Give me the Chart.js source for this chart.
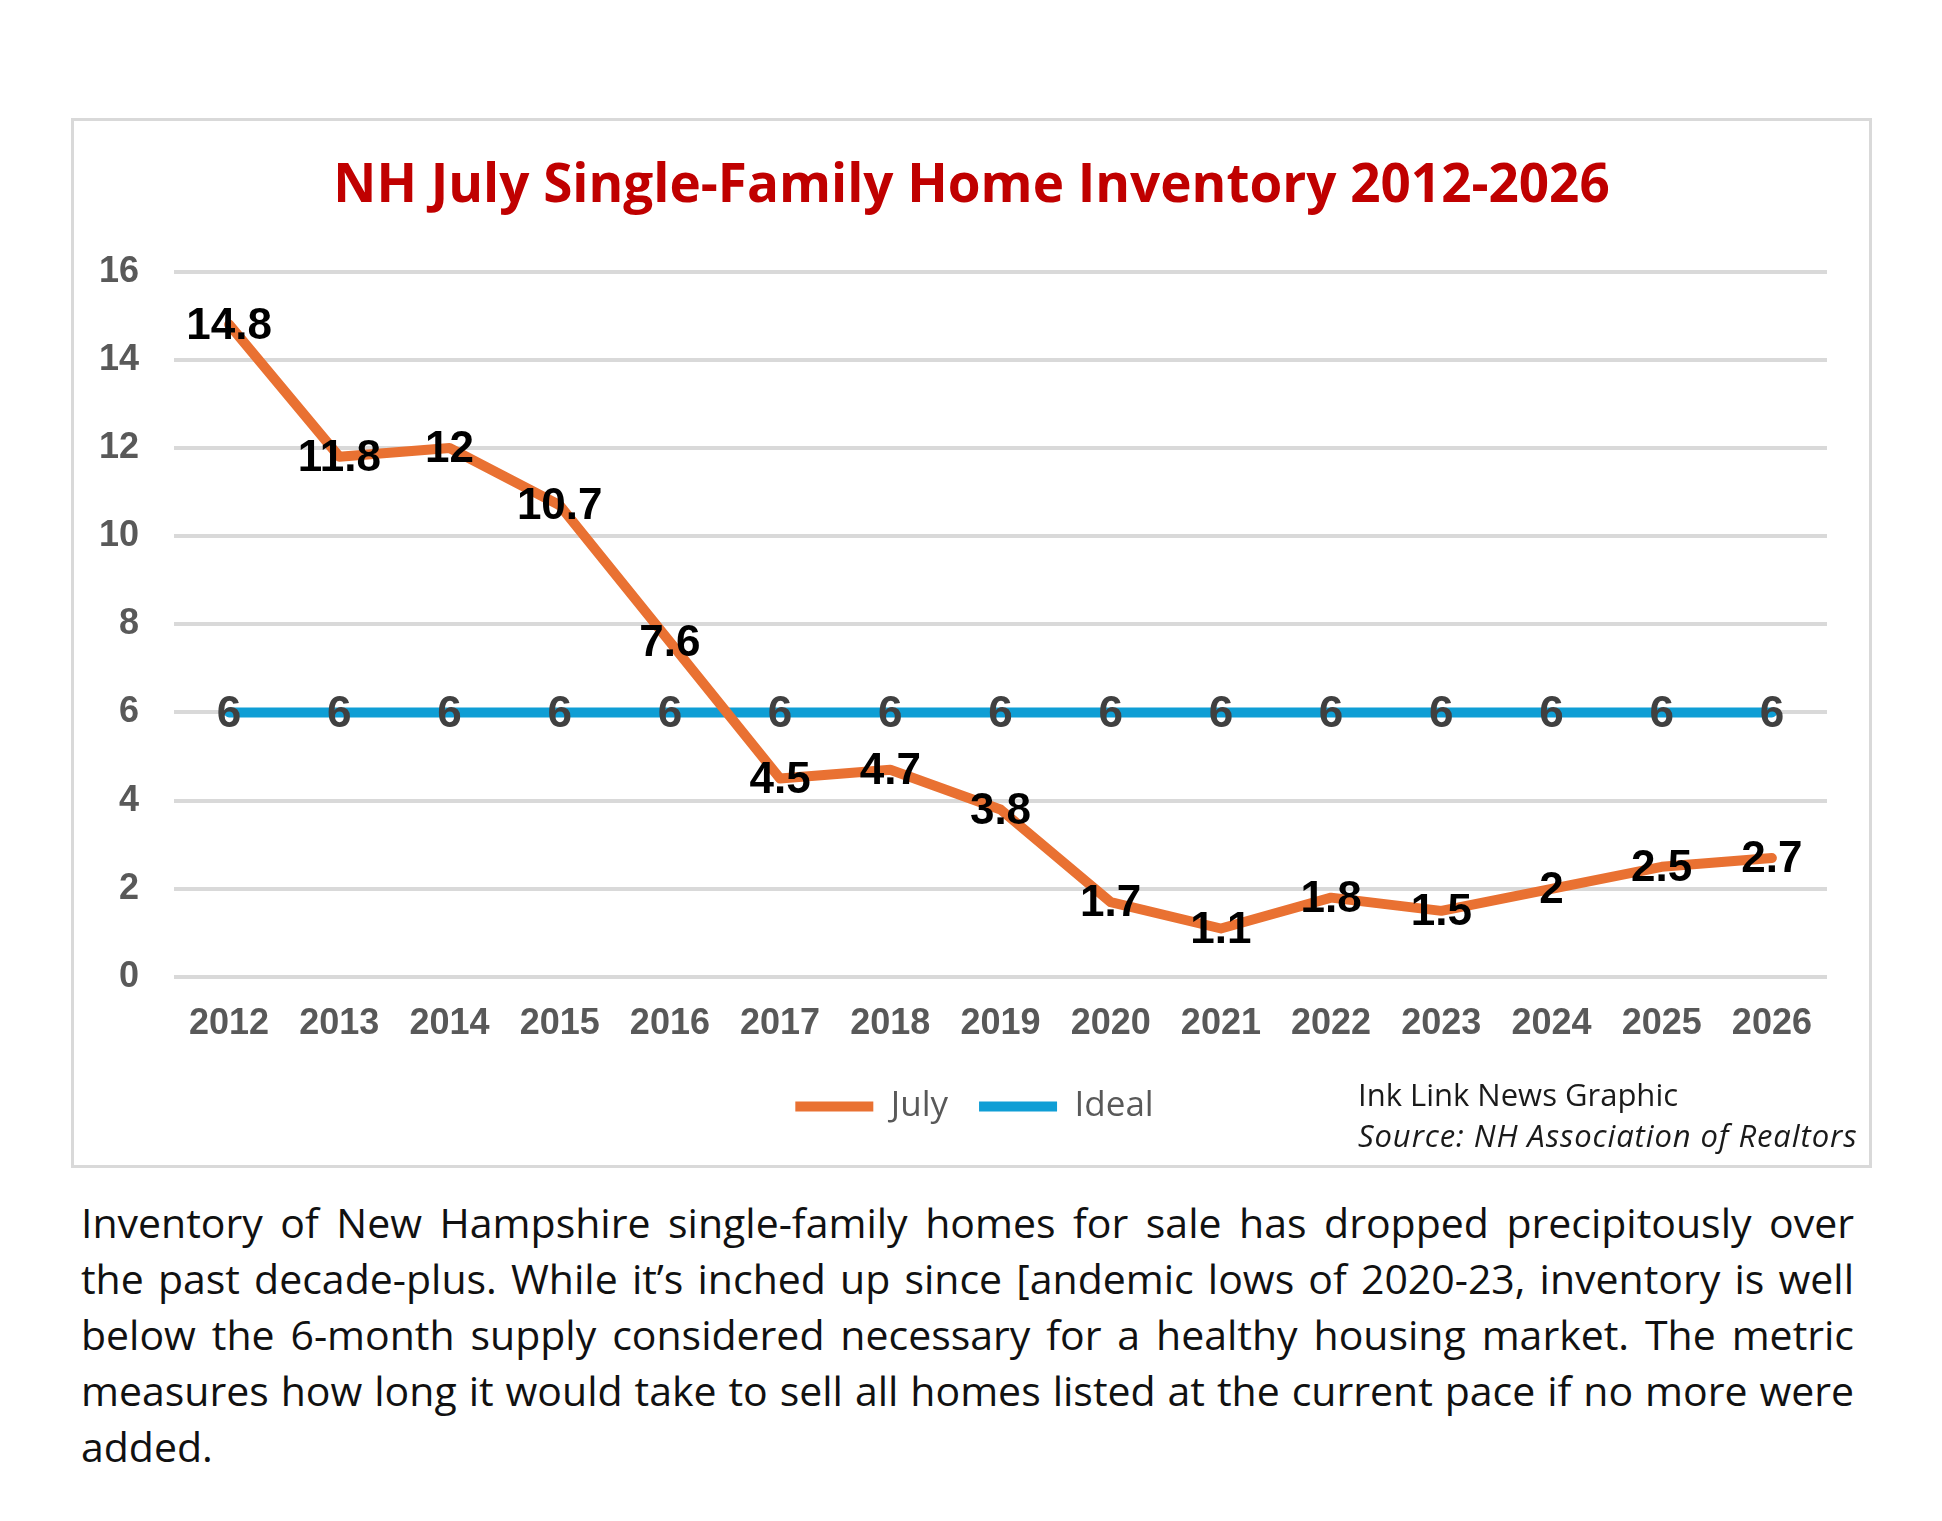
<!DOCTYPE html>
<html>
<head>
<meta charset="utf-8">
<script src="https://cdn.jsdelivr.net/npm/chart.js@4.4.1/dist/chart.umd.min.js"></script>
<style>
  html, body { margin: 0; padding: 0; background: #fff; }
  body { width: 1942px; height: 1521px; position: relative; overflow: hidden; }
  #frame {
    position: absolute; left: 71px; top: 118px;
    width: 1795px; height: 1044px;
    border: 3px solid #d9d9d9;
  }
  #chart { display: block; }
  .credit {
    position: absolute; left: 1358px; font-family: "Open Sans", sans-serif;
    font-size: 31px; color: #1a1a1a; white-space: nowrap; line-height: 40px;
  }
  #caption {
    position: absolute; left: 81px; top: 1194px; width: 1773px;
    font-family: "Open Sans", sans-serif; font-size: 41px; line-height: 56px; color: #111;
  }
  #caption div { white-space: nowrap; text-align: justify; text-align-last: justify; }
  #caption div.last { text-align-last: left; }
</style>
</head>
<body>
<div id="frame"><canvas id="chart" width="1795" height="1044"></canvas></div>
<div class="credit" style="top:1074px">Ink Link News Graphic</div>
<div class="credit" style="top:1115px;font-style:italic;letter-spacing:0.9px">Source: NH Association of Realtors</div>
<div id="caption">
  <div>Inventory of New Hampshire single-family homes for sale has dropped precipitously over</div>
  <div>the past decade-plus. While it’s inched up since [andemic lows of 2020-23, inventory is well</div>
  <div>below the 6-month supply considered necessary for a healthy housing market. The metric</div>
  <div>measures how long it would take to sell all homes listed at the current pace if no more were</div>
  <div class="last">added.</div>
</div>
<script>
// chart values
const years = ["2012", "2013", "2014", "2015", "2016", "2017", "2018", "2019",
               "2020", "2021", "2022", "2023", "2024", "2025", "2026"];
const july = [14.8, 11.8, 12, 10.7, 7.6, 4.5, 4.7, 3.8, 1.7, 1.1, 1.8, 1.5, 2, 2.5, 2.7];
const ideal = [6, 6, 6, 6, 6, 6, 6, 6, 6, 6, 6, 6, 6, 6, 6];
const yTicks = [0, 2, 4, 6, 8, 10, 12, 14, 16];

const ORANGE = "#e97132";
const BLUE = "#0f9ed5";

// draw each value centred on its point, like the Excel "center" labels
const pointLabels = {
    id: "pointLabels",
    afterDatasetsDraw(chart) {
        const ctx = chart.ctx;
        ctx.save();
        ctx.font = "bold 44px 'Liberation Sans', Arial, sans-serif";
        ctx.textAlign = "center";
        ctx.textBaseline = "middle";
        chart.data.datasets.forEach((ds, i) => {
            const meta = chart.getDatasetMeta(i);
            ctx.fillStyle = i === 0 ? "#000" : "#404040";
            meta.data.forEach((pt, j) => {
                ctx.fillText(String(ds.data[j]), pt.x, pt.y + 2);
            });
        });
        ctx.restore();
    }
};

// title and legend are centred on the whole frame, not on the padded area
const centreBlocks = {
    id: "centreBlocks",
    afterLayout(chart) {
        if (chart.titleBlock) {
            chart.titleBlock.left += 21;
            chart.titleBlock.right += 21;
        }
        if (chart.legend) {
            chart.legend.left += 24;
            chart.legend.right += 24;
        }
    }
};

const tickFont = { family: "'Liberation Sans', Arial, sans-serif", size: 36, weight: "bold" };

new Chart(document.getElementById("chart").getContext("2d"), {
    type: "line",
    data: {
        labels: years,
        datasets: [
            {
                label: "July",
                data: july,
                borderColor: ORANGE,
                backgroundColor: ORANGE,
                borderWidth: 10,
                pointRadius: 0,
                pointStyle: "line",
                tension: 0,
                borderCapStyle: "round",
                borderJoinStyle: "round",
            },
            {
                label: "Ideal",
                data: ideal,
                borderColor: BLUE,
                backgroundColor: BLUE,
                borderWidth: 10,
                pointRadius: 0,
                pointStyle: "line",
                tension: 0,
                borderCapStyle: "round",
            },
        ],
    },
    options: {
        responsive: false,
        animation: false,
        layout: { padding: { left: 0, right: 42, top: 0, bottom: 31 } },
        plugins: {
            title: {
                display: true,
                text: "NH July Single-Family Home Inventory 2012-2026",
                color: "#c00000",
                font: { family: "'Open Sans', sans-serif", size: 53, weight: "bold" },
                padding: { top: 34, bottom: 53 },
            },
            legend: {
                position: "bottom",
                labels: {
                    usePointStyle: true,
                    pointStyleWidth: 78,
                    padding: 31,
                    color: "#595959",
                    font: { family: "'Open Sans', sans-serif", size: 35 },
                },
            },
            tooltip: { enabled: false },
        },
        scales: {
            x: {
                offset: true,
                grid: { display: false },
                border: { display: false },
                ticks: { color: "#595959", font: tickFont, padding: 17 },
                afterFit(scale) { scale.height = 81; },
            },
            y: {
                min: 0,
                max: 16,
                grid: { color: "#d9d9d9", lineWidth: 4, drawTicks: false },
                border: { display: false },
                afterBuildTicks(scale) { scale.ticks = yTicks.map(v => ({ value: v })); },
                ticks: { color: "#595959", font: tickFont, padding: 35 },
                afterFit(scale) { scale.width = 100; },
            },
        },
    },
    plugins: [pointLabels, centreBlocks],
});
</script>
</body>
</html>
